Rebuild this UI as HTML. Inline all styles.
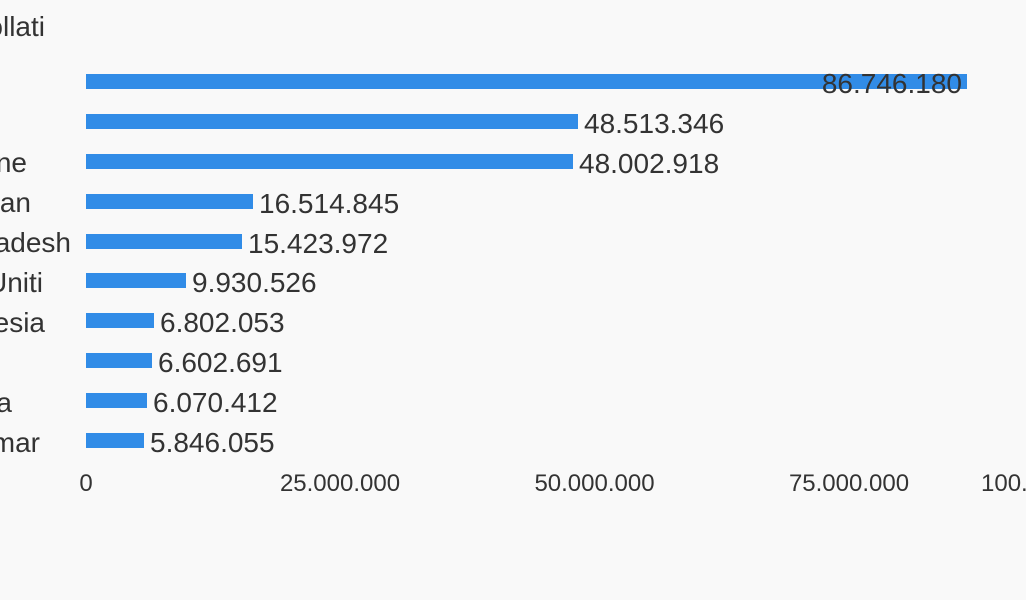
<!DOCTYPE html><html><head><style>body{margin:0;background:#f9f9f9}svg{display:block}text{font-family:"Liberation Sans",sans-serif;fill:#333}</style></head><body>
<svg width="1026" height="600" xmlns="http://www.w3.org/2000/svg">
<rect width="1026" height="600" fill="#f9f9f9"/>
<text x="45" y="36" font-size="28" text-anchor="end">ollati</text>
<g fill="#318ce7">
<rect x="86" y="74" width="881" height="15"/>
<rect x="86" y="114" width="492" height="15"/>
<rect x="86" y="154" width="487" height="15"/>
<rect x="86" y="194" width="167" height="15"/>
<rect x="86" y="234" width="156" height="15"/>
<rect x="86" y="273" width="100" height="15"/>
<rect x="86" y="313" width="68" height="15"/>
<rect x="86" y="353" width="66" height="15"/>
<rect x="86" y="393" width="61" height="15"/>
<rect x="86" y="433" width="58" height="15"/>
</g>
<g font-size="28">
<text x="962" y="93" text-anchor="end">86.746.180</text>
<text x="584" y="133">48.513.346</text>
<text x="579" y="173">48.002.918</text>
<text x="259" y="213">16.514.845</text>
<text x="248" y="253">15.423.972</text>
<text x="192" y="292">9.930.526</text>
<text x="160" y="332">6.802.053</text>
<text x="158" y="372">6.602.691</text>
<text x="153" y="412">6.070.412</text>
<text x="150" y="452">5.846.055</text>
<g text-anchor="end">
<text x="27" y="172">ne</text>
<text x="31" y="212">an</text>
<text x="71" y="252">adesh</text>
<text x="43" y="292">Uniti</text>
<text x="45" y="332">esia</text>
<text x="12" y="412">a</text>
<text x="40" y="452">mar</text>
</g></g>
<g font-size="24" text-anchor="middle">
<text x="86" y="491">0</text>
<text x="340" y="491">25.000.000</text>
<text x="594.5" y="491">50.000.000</text>
<text x="849" y="491">75.000.000</text>
<text x="981" y="491" text-anchor="start">100.000.000</text>
</g>
</svg></body></html>
